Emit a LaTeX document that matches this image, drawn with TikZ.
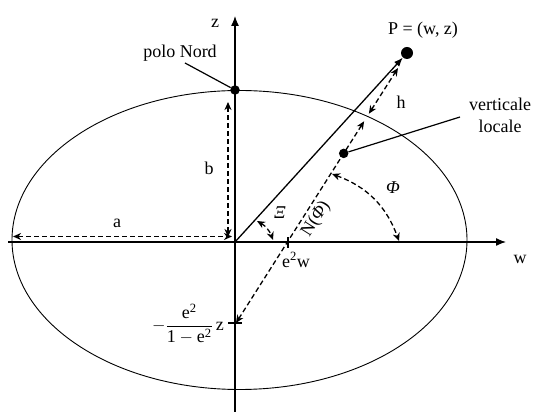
\documentclass[tikz,border=0pt]{standalone}
\usepackage{amsmath}
\usepackage{fontspec}
\setmainfont{Liberation Serif}
\usetikzlibrary{arrows.meta}
\begin{document}
\begin{tikzpicture}[x=1pt,y=1pt,
  lab/.style={font=\fontsize{18}{22}\selectfont, inner sep=0pt},
  axisline/.style={line width=1.3pt, -{Latex[length=10pt,width=8pt]}},
  dimline/.style={line width=1.3pt, dash pattern=on 5pt off 3pt,
     {Stealth[length=8pt,width=7pt,inset=2.5pt]}-{Stealth[length=8pt,width=7pt,inset=2.5pt]}},
  dot/.style={circle, fill=black, inner sep=0pt},
  leader/.style={line width=1.2pt}
]
\useasboundingbox (0,0) rectangle (533,412);
% ellipse
\draw[line width=0.9pt] (239.5,172) ellipse [x radius=227.5, y radius=149.5];
% axes
\coordinate (O) at (235,170);
\coordinate (Wl) at (8,170);
\coordinate (Wr) at (506,170);
\coordinate (Zb) at (235,0);
\coordinate (Zt) at (235,396);
\draw[axisline] (Wl) -- (Wr);
\draw[axisline] (Zb) -- (Zt);
\node[lab] (zlab) at (215,389) {z};
\node[lab] (wlab) at (520,153) {w};
% points
\node[dot, minimum size=12pt] (P) at (407,359) {};
\node[lab] (Plab) at (423,382) {P = (w, z)};
\node[dot, minimum size=9.5pt] (NP) at (235,322) {};
\node[lab] (NPlab) at (180,359) {polo Nord};
\coordinate (NPl) at (185,349);
\draw[leader] (NPl) -- (NP);
% geocentric line
\draw[axisline, -{Latex[length=9pt,width=7pt]}] (O) -- (P);
% a and b
\coordinate (A1) at (13,175.5);
\coordinate (A2) at (232,175.5);
\draw[dimline] (A1) -- (A2);
\node[lab] (alab) at (117,189) {a};
\coordinate (B1) at (228,310);
\coordinate (B2) at (228,175);
\draw[dimline] (B1) -- (B2);
\node[lab] (blab) at (209,244) {b};
% normal line
\coordinate (Q) at (236,89);
\coordinate (E1) at (364.1,290.7);
\coordinate (E2) at (368.9,298.3);
\coordinate (Ph) at (398,344);
\draw[dimline] (Q) -- (E1);
\draw[dimline] (E2) -- (Ph);
\node[lab] (hlab) at (401,310) {h};
\node[lab, rotate=57.6] (Nlab) at (316,193) {N(\textit{Φ})};
% ticks
\coordinate (T1) at (228,89);
\coordinate (T2) at (242,89);
\draw[line width=1.2pt] (T1) -- (T2);
\coordinate (T3) at (288,164);
\coordinate (T4) at (288,175);
\draw[line width=1.2pt] (T3) -- (T4);
\node[lab] (e2w) at (296,152) {e\textsuperscript{2}w};
\node[lab] (frac) at (188,88) {$-\dfrac{\text{e}^{\text{2}}}{\text{1}-\text{e}^{\text{2}}}$\,z};
% verticale locale
\node[dot, minimum size=9.5pt] (VD) at (343.7,258.6) {};
\node[lab, align=center] (VL) at (500,297) {verticale\\locale};
\coordinate (VLl) at (460,295);
\draw[leader] (VLl) -- (VD);
% angles
\coordinate (X1) at (257,191);
\coordinate (X2) at (273,172);
\draw[dimline] (X1) to[bend left=20] (X2);
\node[lab] (Xilab) at (280,199) {\textit{Ξ}};
\coordinate (F1) at (332,238);
\coordinate (F2) at (399,171);
\draw[dimline] (F1) to[bend left=25] (F2);
\node[lab] (Philab) at (393,224) {\textit{Φ}};
\end{tikzpicture}
\end{document}
